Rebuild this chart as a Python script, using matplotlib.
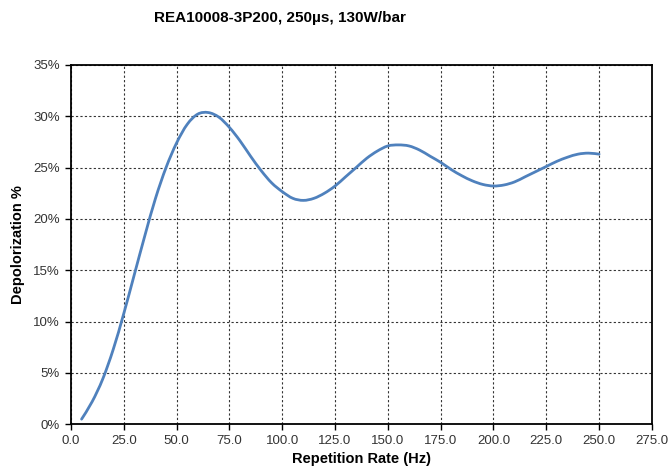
import matplotlib
matplotlib.use("Agg")
import matplotlib.pyplot as plt
import numpy as np
from matplotlib.path import Path
from matplotlib.patches import PathPatch
from matplotlib.ticker import FuncFormatter, MultipleLocator

plt.rcParams['font.family'] = ['Liberation Sans', 'DejaVu Sans']

# repetition rate (Hz) and depolarization (%)
rate = [5, 10, 15, 20, 25, 30, 35, 40, 45, 50,
        55, 60, 65, 70, 75, 80, 85, 90, 95, 100,
        105, 110, 115, 120, 125, 130, 135, 140, 145, 150,
        155, 160, 165, 170, 175, 180, 185, 190, 195, 200,
        205, 210, 215, 220, 225, 230, 235, 240, 245, 250]
depol = [0.5, 2.2, 4.4, 7.3, 10.8, 14.6, 18.4, 22.0, 25.0, 27.4,
         29.2, 30.2, 30.35, 29.9, 28.9, 27.6, 26.1, 24.7, 23.5, 22.65,
         22.0, 21.8, 22.0, 22.5, 23.2, 24.1, 25.0, 25.9, 26.6, 27.1,
         27.2, 27.1, 26.7, 26.1, 25.5, 24.8, 24.2, 23.7, 23.35, 23.2,
         23.3, 23.6, 24.1, 24.6, 25.1, 25.6, 26.0, 26.3, 26.4, 26.3]

title = "REA10008-3P200, 250µs, 130W/bar"


def smooth_path(xs, ys):
    # Excel-style smoothed line: Catmull-Rom segments drawn as cubic Beziers
    p = np.column_stack([xs, ys]).astype(float)
    ext = np.vstack([p[0], p, p[-1]])
    verts = [p[0]]
    codes = [Path.MOVETO]
    for i in range(1, len(ext) - 2):
        c1 = ext[i] + (ext[i + 1] - ext[i - 1]) / 6
        c2 = ext[i + 1] - (ext[i + 2] - ext[i]) / 6
        verts += [c1, c2, ext[i + 1]]
        codes += [Path.CURVE4] * 3
    return Path(verts, codes)


fig = plt.figure(figsize=(6.7, 4.73), dpi=100)
ax = fig.add_axes([0.106, 0.103, 0.867, 0.76])

ax.add_patch(PathPatch(smooth_path(rate, depol), facecolor='none',
                       edgecolor='#4F81BD', linewidth=2.0, capstyle='round', zorder=3))

ax.set_xlim(0, 275)
ax.set_ylim(0, 35)
ax.xaxis.set_major_locator(MultipleLocator(25))
ax.yaxis.set_major_locator(MultipleLocator(5))
ax.xaxis.set_major_formatter(FuncFormatter(lambda v, p: f"{v:.1f}"))
ax.yaxis.set_major_formatter(FuncFormatter(lambda v, p: f"{v:.0f}%"))

ax.grid(True, color='#333333', linestyle=(0, (2, 2)), linewidth=0.8)
ax.set_axisbelow(True)
for s in ax.spines.values():
    s.set_linewidth(1.3)
    s.set_color('black')
ax.tick_params(direction='out', length=4, width=1, labelsize=9.5,
               colors='black', labelcolor='#333333', pad=4)

ax.set_xlabel("Repetition Rate (Hz)", fontsize=10.5, fontweight='bold', labelpad=3)
ax.set_ylabel("Depolorization %", fontsize=10.5, fontweight='bold', labelpad=6)
fig.text(280 / 670, 0.962, title, fontsize=11, fontweight='bold',
         ha='center', va='center')

fig.savefig("out.png", dpi=100)
